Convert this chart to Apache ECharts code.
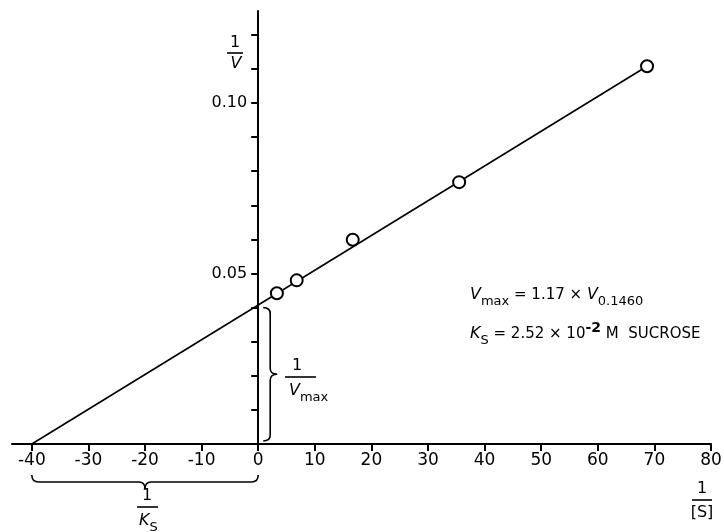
<!DOCTYPE html>
<html>
<head>
<meta charset="utf-8">
<script src="https://cdn.jsdelivr.net/npm/echarts@6/dist/echarts.min.js"></script>
<style>
  html, body { margin: 0; padding: 0; background: #fff; }
  #chart { width: 724px; height: 532px; }
</style>
</head>
<body>
<div id="chart"></div>
<script>
// measured points: 1/[S] and 1/v
const invS = [3.3, 6.8, 16.7, 35.5, 68.7]
const invV = [0.0442, 0.0480, 0.0599, 0.0768, 0.1108]
// fitted line, from the -1/Ks intercept to the last point
const fitX = [-40, 68.7]
const fitY = [0, 0.1108]
// intercepts shown by the braces
const ksIntercept = -40
const vmaxIntercept = 0.0406
// ticks
const xTicks = [-40, -30, -20, -10, 0, 10, 20, 30, 40, 50, 60, 70, 80]
const yTicks = [0, 0.01, 0.02, 0.03, 0.04, 0.05, 0.06, 0.07, 0.08, 0.09, 0.10, 0.11, 0.12]
const yLabelValues = [0.05, 0.10]
const yLabelText = ['0.05', '0.10']

const X_MIN = -43.5
const X_MAX = 80
const GRID_LEFT = 12
const GRID_RIGHT = 13
const FONT = 'DejaVu Sans'
const chart = echarts.init(document.getElementById('chart'))

// y axis sits at x = 0, moved in from the grid's left edge
const yAxisOffset = -(0 - X_MIN) / (X_MAX - X_MIN) * (724 - GRID_LEFT - GRID_RIGHT)

// brace path, horizontal (tip down) or vertical (tip right)
const bracePath = (a, b, horizontal) => {
  if (horizontal) {
    const y0 = a[1], y1 = y0 + 7, m = (a[0] + b[0]) / 2
    return `M${a[0]} ${y0} Q${a[0]} ${y1} ${a[0] + 7} ${y1} L${m - 6} ${y1} Q${m} ${y1} ${m} ${y1 + 7} ` +
      `M${m} ${y1 + 7} Q${m} ${y1} ${m + 6} ${y1} L${b[0] - 7} ${y1} Q${b[0]} ${y1} ${b[0]} ${y0}`
  }
  const x0 = a[0], x1 = x0 + 7, m = (a[1] + b[1]) / 2
  return `M${x0} ${a[1]} Q${x1} ${a[1]} ${x1} ${a[1] - 6} L${x1} ${m + 6} Q${x1} ${m} ${x1 + 7} ${m} ` +
    `M${x1 + 7} ${m} Q${x1} ${m} ${x1} ${m - 6} L${x1} ${b[1] + 6} Q${x1} ${b[1]} ${x0} ${b[1]}`
}

const braceSeries = (data, horizontal) => ({
  type: 'custom',
  silent: true,
  clip: false,
  encode: { x: [0, 2], y: [1, 3] },
  data: [data],
  renderItem: (params, api) => {
    let a = api.coord([api.value(0), api.value(1)])
    let b = api.coord([api.value(2), api.value(3)])
    if (horizontal) {
      a = [a[0], a[1] + 31]
      b = [b[0], b[1] + 31]
    } else {
      a = [a[0] + 5, a[1] - 3]
      b = [b[0] + 5, b[1] + 2]
    }
    return {
      type: 'path',
      shape: { pathData: bracePath(a, b, horizontal) },
      style: { stroke: '#000', fill: null, lineWidth: 1.6 }
    }
  }
})

const txt = (x, y, text, size, extra) => ({
  type: 'text',
  x: x,
  y: y,
  style: Object.assign({
    text: text,
    fontFamily: FONT,
    fontSize: size,
    fill: '#000',
    align: 'center',
    verticalAlign: 'middle'
  }, extra || {})
})
const bar = (x1, x2, y) => ({
  type: 'line',
  shape: { x1: x1, y1: y, x2: x2, y2: y },
  style: { stroke: '#000', lineWidth: 1.6 }
})

const rich = {
  n: { fontFamily: FONT, fontSize: 15, lineHeight: 26, verticalAlign: 'middle' },
  i: { fontFamily: FONT, fontSize: 16, fontStyle: 'italic', lineHeight: 26, verticalAlign: 'middle' },
  sub: { fontFamily: FONT, fontSize: 13, verticalAlign: 'bottom', lineHeight: 15 },
  sup: { fontFamily: FONT, fontSize: 14, fontWeight: 'bold', verticalAlign: 'top', lineHeight: 15 }
}

chart.setOption({
  animation: false,
  grid: { left: GRID_LEFT, right: GRID_RIGHT, top: 11, bottom: 88, outerBoundsMode: 'none' },
  xAxis: {
    type: 'value',
    min: X_MIN,
    max: X_MAX,
    splitLine: { show: false },
    axisLine: { onZero: true, lineStyle: { color: '#000', width: 2 } },
    axisTick: { customValues: xTicks, length: 7, lineStyle: { color: '#000', width: 2 } },
    axisLabel: { customValues: xTicks, color: '#000', fontFamily: FONT, fontSize: 17, margin: 8 }
  },
  yAxis: {
    type: 'value',
    min: 0,
    max: 0.127,
    offset: yAxisOffset,
    splitLine: { show: false },
    axisLine: { onZero: false, lineStyle: { color: '#000', width: 2 } },
    axisTick: { customValues: yTicks, length: 7, lineStyle: { color: '#000', width: 2 } },
    axisLabel: {
      customValues: yLabelValues,
      formatter: v => yLabelText[yLabelValues.findIndex(t => Math.abs(t - v) < 1e-6)],
      color: '#000', fontFamily: FONT, fontSize: 16, margin: 11
    }
  },
  series: [
    {
      type: 'line',
      data: fitX.map((x, i) => [x, fitY[i]]),
      showSymbol: false,
      lineStyle: { color: '#000', width: 1.6 },
      z: 2
    },
    {
      type: 'scatter',
      data: invS.map((x, i) => [x, invV[i]]),
      symbol: 'circle',
      symbolSize: 12,
      itemStyle: { color: '#fff', borderColor: '#000', borderWidth: 2, opacity: 1 },
      z: 3
    },
    braceSeries([ksIntercept, 0, 0, 0], true),
    braceSeries([0, 0, 0, vmaxIntercept], false)
  ],
  graphic: [
    // 1/V axis name
    txt(235, 43, '1', 16),
    bar(227, 243, 53),
    txt(236, 64, 'V', 16, { fontStyle: 'italic' }),
    // 1/Vmax
    txt(297, 366, '1', 16),
    bar(285, 316, 377),
    txt(289, 391, '{i|V}{sub|max}', 16, { align: 'left', rich: rich }),
    // 1/Ks
    txt(147, 496, '1', 16),
    bar(137, 158, 507),
    txt(139, 521, '{i|K}{sub|S}', 16, { align: 'left', rich: rich }),
    // 1/[S]
    txt(702, 489, '1', 16),
    bar(692, 712, 500),
    txt(702, 513, '[S]', 16),
    // constants
    txt(470, 295, '{i|V}{sub|max}{n| = 1.17 × }{i|V}{sub|0.1460}', 15, { align: 'left', rich: rich }),
    txt(470, 334, '{i|K}{sub|S}{n| = 2.52 × 10}{sup|-2}{n| M  SUCROSE}', 15, { align: 'left', rich: rich })
  ]
})
</script>
</body>
</html>
